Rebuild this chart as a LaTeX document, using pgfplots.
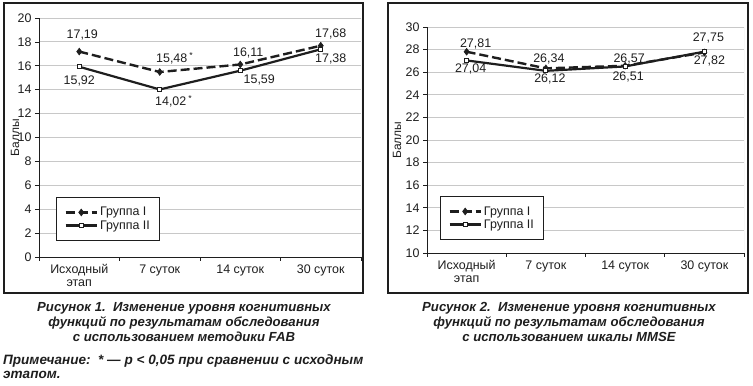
\documentclass[border=0pt]{standalone}
\usepackage{pgfplots}
\usepackage{pgfplotstable}
\pgfplotsset{compat=1.18}
\usepackage{fontspec}
\setmainfont{Liberation Sans}
\definecolor{ink}{HTML}{1E1E1E}
\definecolor{gridc}{HTML}{C8C8C8}

\pgfplotstableread{
x y dx dy lab
0 17.19 3 17 {17,19}
1 15.48 15 14 {15,48\,\textsuperscript{*}}
2 16.11 8 12 {16,11}
3 17.68 10 12 {17,68}
}\fabA
\pgfplotstableread{
x y dx dy lab
0 15.92 0 -14 {15,92}
1 14.02 14 -12 {14,02\,\textsuperscript{*}}
2 15.59 19 -9 {15,59}
3 17.38 10 -10 {17,38}
}\fabB
\pgfplotstableread{
x y dx dy lab
0 27.81 9 8 {27,81}
1 26.34 3 9 {26,34}
2 26.57 4 7 {26,57}
3 27.75 4 14 {27,75}
}\mmseA
\pgfplotstableread{
x y dx dy lab
0 27.04 4 -9 {27,04}
1 26.12 4 -8 {26,12}
2 26.51 3 -11 {26,51}
3 27.82 5 -9 {27,82}
}\mmseB

\pgfplotsset{
  myax/.style={
    scale only axis, anchor=south west,
    xmin=-0.5, xmax=3.5,
    xtick={0,1,2,3},
    xticklabels={{Исходный\\этап},{7 суток},{14 суток},{30 суток}},
    xticklabel style={align=center, font=\fontsize{12.5}{12.5}\selectfont, text=ink},
    minor xtick={-0.5,0.5,1.5,2.5,3.5},
    major x tick style={draw=none},
    minor tick length=4bp, major tick length=4bp,
    tick align=outside,
    axis x line*=bottom, axis y line*=left,
    axis line style={-, ink, line width=0.8bp},
    tick style={ink, line width=0.7bp},
    ymajorgrids, grid style={gridc, line width=0.8bp},
    yticklabel style={font=\fontsize{12.5}{12.5}\selectfont, text=ink},
    /pgf/number format/assume math mode=true,
    ylabel={Баллы},
    legend cell align=left,
    legend style={draw=ink, line width=0.8bp, font=\fontsize{12.5}{12.5}\selectfont,
      inner xsep=8bp, inner ysep=8bp, row sep=-1bp, text=ink},
    legend image code/.code={\draw[mark repeat=2,mark phase=2] plot coordinates {(0cm,0cm) (0.55cm,0cm) (1.1cm,0cm)};},
    nodes near coords={\pgfplotspointmeta},
    point meta=explicit symbolic,
    visualization depends on={\thisrow{dx} \as \mydx},
    visualization depends on={\thisrow{dy} \as \mydy},
    every node near coord/.append style={anchor=center, xshift=\mydx*1bp, yshift=\mydy*1bp,
      font=\fontsize{12.5}{12.5}\selectfont, text=ink},
  },
  gA/.style={ink, line width=2.4bp, dash pattern=on 9bp off 4bp, mark=diamond*, mark size=3.4bp,
    mark options={solid, fill=ink, line width=0.6bp}},
  gB/.style={ink, line width=2.2bp, mark=square*, mark size=2bp,
    mark options={solid, fill=white, draw=ink, line width=0.8bp}},
}

\begin{document}
\begin{tikzpicture}
\useasboundingbox (0bp,0bp) rectangle (753bp,386bp);
\draw[ink, line width=1.2bp] (4bp,93bp) rectangle (363bp,383bp);
\draw[ink, line width=1.2bp] (388bp,93bp) rectangle (748bp,383bp);

\begin{axis}[myax, at={(39bp,129bp)}, width=322bp, height=239bp,
  ymin=0, ymax=20, ytick={0,2,...,20},
  every axis y label/.style={at={(rel axis cs:0,0.5)}, rotate=90, anchor=center, yshift=24bp,
    font=\fontsize{12}{12}\selectfont, text=ink},
  legend style={at={(0.053,0.251)}, anchor=north west}]
\addplot[gA] table[x=x, y=y, meta=lab] {\fabA};
\addlegendentry{Группа I}
\addplot[gB] table[x=x, y=y, meta=lab] {\fabB};
\addlegendentry{Группа II}
\draw[gridc, line width=0.8bp] (rel axis cs:1,0) -- (rel axis cs:1,1);
\end{axis}

\begin{axis}[myax, at={(427bp,133bp)}, width=317bp, height=226bp,
  ymin=10, ymax=30, ytick={10,12,...,30},
  every axis y label/.style={at={(rel axis cs:0,0.5)}, rotate=90, anchor=center, yshift=30bp,
    font=\fontsize{12}{12}\selectfont, text=ink},
  legend style={at={(0.041,0.252)}, anchor=north west}]
\addplot[gA] table[x=x, y=y, meta=lab] {\mmseA};
\addlegendentry{Группа I}
\addplot[gB] table[x=x, y=y, meta=lab] {\mmseB};
\addlegendentry{Группа II}
\draw[gridc, line width=0.8bp] (rel axis cs:1,0) -- (rel axis cs:1,1);
\end{axis}

\node[align=center, text=ink, font=\bfseries\itshape\fontsize{13.2}{15}\selectfont] at (184bp,64bp)
  {Рисунок 1.~~Изменение уровня когнитивных\\функций по результатам обследования\\с использованием методики FAB};
\node[align=center, text=ink, font=\bfseries\itshape\fontsize{13.2}{15}\selectfont] at (569bp,64bp)
  {Рисунок 2.~~Изменение уровня когнитивных\\функций по результатам обследования\\с использованием шкалы MMSE};
\node[align=left, anchor=west, inner sep=0pt, text=ink, font=\bfseries\itshape\fontsize{13.6}{13.5}\selectfont] at (3bp,19.5bp)
  {Примечание:~~* — p < 0,05 при сравнении с исходным\\этапом.};
\end{tikzpicture}
\end{document}
